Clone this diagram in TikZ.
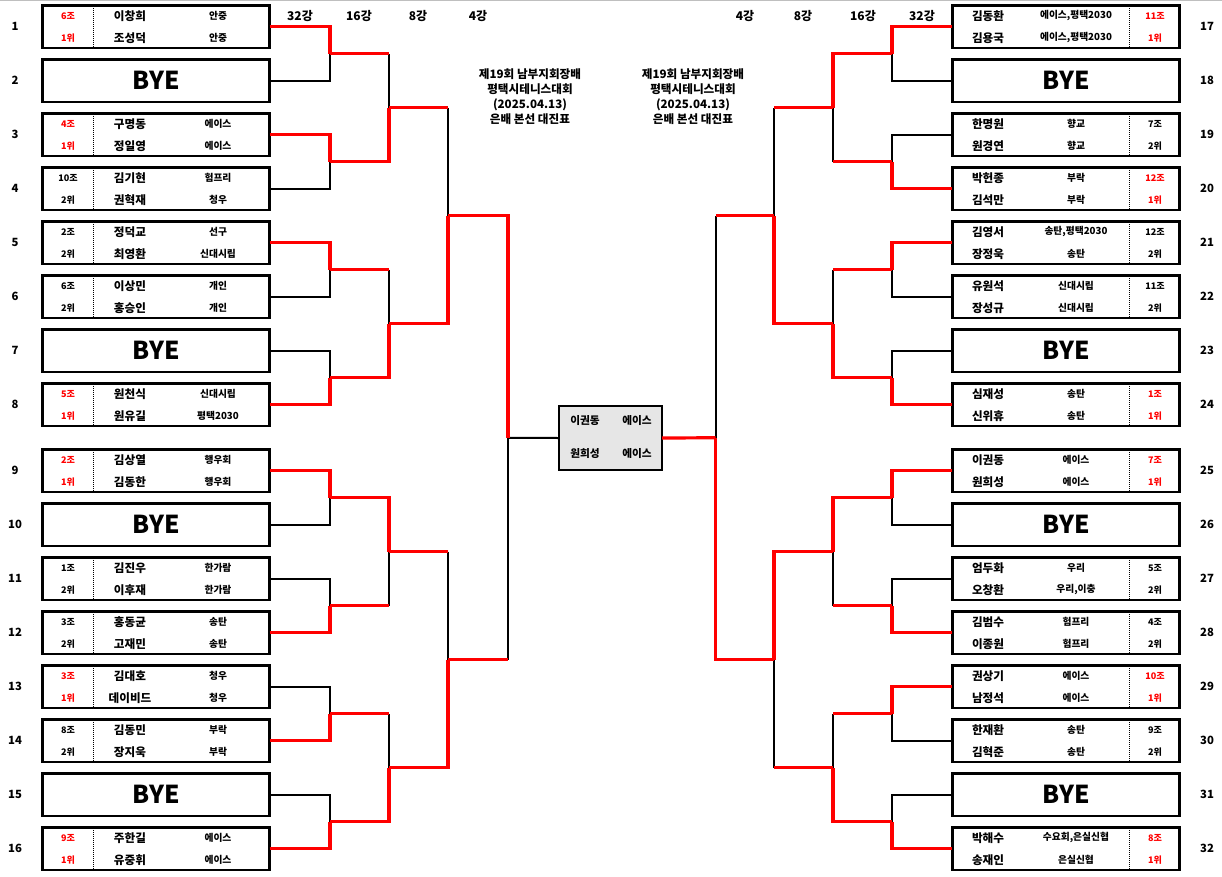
\documentclass[tikz,border=0pt]{standalone}
\usepackage{fontspec}
\setmainfont{Noto Sans CJK KR}
\definecolor{wred}{RGB}{255,0,0}
\definecolor{cgray}{RGB}{230,230,230}
\tikzset{
  pbox/.style={draw, line width=2pt, minimum width=170.5pt, minimum height=31.7pt, inner sep=0pt, outer sep=0pt},
  byebox/.style={pbox, font=\fontsize{18.5}{20}\selectfont\bfseries},
  grp/.style={font=\fontsize{6.8}{8}\selectfont\bfseries, inner sep=0pt},
  nm/.style={font=\fontsize{8.7}{10}\selectfont\bfseries, inner sep=0pt},
  club/.style={font=\fontsize{7.3}{9}\selectfont\bfseries, inner sep=0pt},
  num/.style={font=\fontsize{8.5}{10}\selectfont\bfseries, inner sep=0pt},
  rnd/.style={font=\fontsize{9}{10}\selectfont\bfseries, inner sep=0pt},
  ttl/.style={font=\fontsize{8.7}{11.25}\selectfont\bfseries, align=center, inner sep=0pt},
  cnm/.style={font=\fontsize{8}{10}\selectfont\bfseries, inner sep=0pt},
  dotsep/.style={line width=0.75pt, dash pattern=on 0.75pt off 0.75pt},
  wline/.style={wred, line width=2.4pt},
  lline/.style={black, line width=1.5pt},
  cbox/.style={draw, fill=cgray, line width=1.5pt, minimum width=77.25pt, minimum height=48pt, inner sep=0pt, outer sep=0pt},
}
% left player box: id, y, group, rank, colour, name1, club1, name2, club2
\newcommand\lplayer[9]{%
  \node[pbox] (#1) at (156,#2) {};
  \draw[dotsep] (93,{#2-21}) -- (93,{#2+21});
  \node[grp,text=#5] (#1g) at (68,{#2-11}) {#3};
  \node[grp,text=#5] (#1r) at (68,{#2+11}) {#4};
  \node[nm] (#1n1) at (130,{#2-11}) {#6};
  \node[club] (#1c1) at (218,{#2-11}) {#7};
  \node[nm] (#1n2) at (130,{#2+11}) {#8};
  \node[club] (#1c2) at (218,{#2+11}) {#9};
}
\newcommand\rplayer[9]{%
  \node[pbox] (#1) at (1066,#2) {};
  \draw[dotsep] (1129,{#2-21}) -- (1129,{#2+21});
  \node[grp,text=#5] (#1g) at (1155,{#2-11}) {#3};
  \node[grp,text=#5] (#1r) at (1155,{#2+11}) {#4};
  \node[nm] (#1n1) at (988,{#2-11}) {#6};
  \node[club] (#1c1) at (1076,{#2-11}) {#7};
  \node[nm] (#1n2) at (988,{#2+11}) {#8};
  \node[club] (#1c2) at (1076,{#2+11}) {#9};
}
\begin{document}
\begin{tikzpicture}[x=0.75pt, y=-0.75pt]
\useasboundingbox (0,0) rectangle (1222,876);
\fill[white] (0,0) rectangle (1222,876);
\draw[gray!50, line width=0.75pt] (0,0.5) -- (1222,0.5);

% round labels
\node[rnd] (t32l) at (300,16) {32강};
\node[rnd] (t16l) at (359,16) {16강};
\node[rnd] (t8l) at (418,16) {8강};
\node[rnd] (t4l) at (478,16) {4강};
\node[rnd] (t4r) at (745,16) {4강};
\node[rnd] (t8r) at (803,16) {8강};
\node[rnd] (t16r) at (863,16) {16강};
\node[rnd] (t32r) at (922,16) {32강};

% titles
\node[ttl] (titleL) at (530,97) {제19회 남부지회장배\\평택시테니스대회\\(2025.04.13)\\은배 본선 대진표};
\node[ttl] (titleR) at (693,97) {제19회 남부지회장배\\평택시테니스대회\\(2025.04.13)\\은배 본선 대진표};

% left players
\lplayer{L1}{26.75}{6조}{1위}{wred}{이창희}{안중}{조성덕}{안중}
\node[byebox] (L2) at (156,80.75) {BYE};
\lplayer{L3}{134.75}{4조}{1위}{wred}{구명동}{에이스}{정일영}{에이스}
\lplayer{L4}{188.75}{10조}{2위}{black}{김기현}{험프리}{권혁재}{청우}
\lplayer{L5}{242.75}{2조}{2위}{black}{정덕교}{선구}{최영환}{신대시립}
\lplayer{L6}{296.75}{6조}{2위}{black}{이상민}{개인}{홍승인}{개인}
\node[byebox] (L7) at (156,350.75) {BYE};
\lplayer{L8}{404.75}{5조}{1위}{wred}{원천식}{신대시립}{원유길}{평택2030}
\lplayer{L9}{470.75}{2조}{1위}{wred}{김상열}{행우회}{김동한}{행우회}
\node[byebox] (L10) at (156,524.75) {BYE};
\lplayer{L11}{578.75}{1조}{2위}{black}{김진우}{한가람}{이후재}{한가람}
\lplayer{L12}{632.75}{3조}{2위}{black}{홍동균}{송탄}{고재민}{송탄}
\lplayer{L13}{686.75}{3조}{1위}{wred}{김대호}{청우}{데이비드}{청우}
\lplayer{L14}{740.75}{8조}{2위}{black}{김동민}{부락}{장지욱}{부락}
\node[byebox] (L15) at (156,794.75) {BYE};
\lplayer{L16}{848.75}{9조}{1위}{wred}{주한길}{에이스}{유중휘}{에이스}

% right players
\rplayer{R17}{26.75}{11조}{1위}{wred}{김동환}{에이스,평택2030}{김용국}{에이스,평택2030}
\node[byebox] (R18) at (1066,80.75) {BYE};
\rplayer{R19}{134.75}{7조}{2위}{black}{한명원}{향교}{원경연}{향교}
\rplayer{R20}{188.75}{12조}{1위}{wred}{박헌종}{부락}{김석만}{부락}
\rplayer{R21}{242.75}{12조}{2위}{black}{김영서}{송탄,평택2030}{장정욱}{송탄}
\rplayer{R22}{296.75}{11조}{2위}{black}{유원석}{신대시립}{장성규}{신대시립}
\node[byebox] (R23) at (1066,350.75) {BYE};
\rplayer{R24}{404.75}{1조}{1위}{wred}{심재성}{송탄}{신위휴}{송탄}
\rplayer{R25}{470.75}{7조}{1위}{wred}{이권동}{에이스}{원희성}{에이스}
\node[byebox] (R26) at (1066,524.75) {BYE};
\rplayer{R27}{578.75}{5조}{2위}{black}{엄두화}{우리}{오창환}{우리,이충}
\rplayer{R28}{632.75}{4조}{2위}{black}{김범수}{험프리}{이종원}{험프리}
\rplayer{R29}{686.75}{10조}{1위}{wred}{권상기}{에이스}{남정석}{에이스}
\rplayer{R30}{740.75}{9조}{2위}{black}{한재환}{송탄}{김혁준}{송탄}
\node[byebox] (R31) at (1066,794.75) {BYE};
\rplayer{R32}{848.75}{8조}{1위}{wred}{박해수}{수요회,은실신협}{송재인}{은실신협}

% seed numbers
\foreach \n/\y in {1/26.75,2/80.75,3/134.75,4/188.75,5/242.75,6/296.75,7/350.75,8/404.75,
                   9/470.75,10/524.75,11/578.75,12/632.75,13/686.75,14/740.75,15/794.75,16/848.75}{
  \node[num] (nl\n) at (15,\y) {\n};
}
\foreach \n/\y in {17/26.75,18/80.75,19/134.75,20/188.75,21/242.75,22/296.75,23/350.75,24/404.75,
                   25/470.75,26/524.75,27/578.75,28/632.75,29/686.75,30/740.75,31/794.75,32/848.75}{
  \node[num] (nr\n) at (1207,\y) {\n};
}

% champion box
\node[cbox] (C) at (610.5,438) {};
\node[cnm] (Cn1) at (585,421) {이권동};
\node[cnm] (Cc1) at (637,421) {에이스};
\node[cnm] (Cn2) at (585,453) {원희성};
\node[cnm] (Cc2) at (637,453) {에이스};

% junction coordinates, left
\coordinate (la1) at (330,53.75);  \coordinate (la2) at (330,161.75);
\coordinate (la3) at (330,269.75); \coordinate (la4) at (330,377.75);
\coordinate (la5) at (330,497.75); \coordinate (la6) at (330,605.75);
\coordinate (la7) at (330,713.75); \coordinate (la8) at (330,821.75);
\coordinate (lb1) at (389,107.75); \coordinate (lb2) at (389,323.75);
\coordinate (lb3) at (389,551.75); \coordinate (lb4) at (389,767.75);
\coordinate (lc1) at (448,215.75); \coordinate (lc2) at (448,659.75);
\coordinate (ld) at (508,437.75);
% right
\coordinate (ra1) at (892,53.75);  \coordinate (ra2) at (892,161.75);
\coordinate (ra3) at (892,269.75); \coordinate (ra4) at (892,377.75);
\coordinate (ra5) at (892,497.75); \coordinate (ra6) at (892,605.75);
\coordinate (ra7) at (892,713.75); \coordinate (ra8) at (892,821.75);
\coordinate (rb1) at (833,107.75); \coordinate (rb2) at (833,323.75);
\coordinate (rb3) at (833,551.75); \coordinate (rb4) at (833,767.75);
\coordinate (rc1) at (774,215.75); \coordinate (rc2) at (774,659.75);
\coordinate (rd) at (715.5,437.75);

% black (losing) lines
\draw[lline] (L2.east) -| (la1);  \draw[lline] (L4.east) -| (la2);
\draw[lline] (L6.east) -| (la3);  \draw[lline] (L7.east) -| (la4);
\draw[lline] (L10.east) -| (la5); \draw[lline] (L11.east) -| (la6);
\draw[lline] (L13.east) -| (la7); \draw[lline] (L15.east) -| (la8);
\draw[lline] (la1 -| lb1) -- (lb1); \draw[lline] (la3 -| lb2) -- (lb2);
\draw[lline] (la6 -| lb3) -- (lb3); \draw[lline] (la7 -| lb4) -- (lb4);
\draw[lline] (lb1 -| lc1) -- (lc1); \draw[lline] (lb3 -| lc2) -- (lc2);
\draw[lline] (lc2 -| ld) -- (ld);
\draw[lline] (ld) -- (C.west);

\draw[lline] (R18.west) -| (ra1); \draw[lline] (R19.west) -| (ra2);
\draw[lline] (R22.west) -| (ra3); \draw[lline] (R23.west) -| (ra4);
\draw[lline] (R26.west) -| (ra5); \draw[lline] (R27.west) -| (ra6);
\draw[lline] (R30.west) -| (ra7); \draw[lline] (R31.west) -| (ra8);
\draw[lline] (ra2 -| rb1) -- (rb1); \draw[lline] (ra3 -| rb2) -- (rb2);
\draw[lline] (ra6 -| rb3) -- (rb3); \draw[lline] (ra7 -| rb4) -- (rb4);
\draw[lline] (rb1 -| rc1) -- (rc1); \draw[lline] (rb4 -| rc2) -- (rc2);
\draw[lline] (rc1 -| rd) -- (rd);

% red (winning) lines, left
\draw[wline] (L1.east) -| (la1);  \draw[wline] (L3.east) -| (la2);
\draw[wline] (L5.east) -| (la3);  \draw[wline] (L8.east) -| (la4);
\draw[wline] (L9.east) -| (la5);  \draw[wline] (L12.east) -| (la6);
\draw[wline] (L14.east) -| (la7); \draw[wline] (L16.east) -| (la8);
\draw[wline] (la1) -- (la1 -| lb1); \draw[wline] (la2) -| (lb1);
\draw[wline] (la3) -- (la3 -| lb2); \draw[wline] (la4) -| (lb2);
\draw[wline] (la5) -| (lb3);        \draw[wline] (la6) -- (la6 -| lb3);
\draw[wline] (la7) -- (la7 -| lb4); \draw[wline] (la8) -| (lb4);
\draw[wline] (lb1) -- (lb1 -| lc1); \draw[wline] (lb2) -| (lc1);
\draw[wline] (lb3) -- (lb3 -| lc2); \draw[wline] (lb4) -| (lc2);
\draw[wline] (lc1) -| (ld);         \draw[wline] (lc2) -- (lc2 -| ld);

% red (winning) lines, right
\draw[wline] (R17.west) -| (ra1); \draw[wline] (R20.west) -| (ra2);
\draw[wline] (R21.west) -| (ra3); \draw[wline] (R24.west) -| (ra4);
\draw[wline] (R25.west) -| (ra5); \draw[wline] (R28.west) -| (ra6);
\draw[wline] (R29.west) -| (ra7); \draw[wline] (R32.west) -| (ra8);
\draw[wline] (ra1) -| (rb1);        \draw[wline] (ra2) -- (ra2 -| rb1);
\draw[wline] (ra3) -- (ra3 -| rb2); \draw[wline] (ra4) -| (rb2);
\draw[wline] (ra5) -| (rb3);        \draw[wline] (ra6) -- (ra6 -| rb3);
\draw[wline] (ra7) -- (ra7 -| rb4); \draw[wline] (ra8) -| (rb4);
\draw[wline] (rb1) -- (rb1 -| rc1); \draw[wline] (rb2) -| (rc1);
\draw[wline] (rb3) -| (rc2);        \draw[wline] (rb4) -- (rb4 -| rc2);
\draw[wline] (rc1) -- (rc1 -| rd);  \draw[wline] (rc2) -| (rd);
\draw[wline] (C.east) -- (rd);
\end{tikzpicture}
\end{document}
